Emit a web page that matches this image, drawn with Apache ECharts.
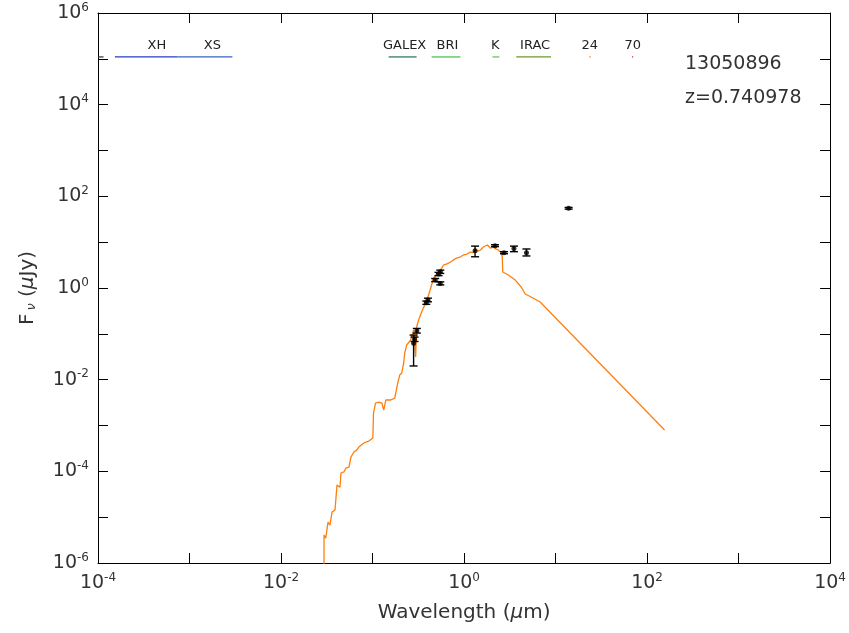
<!DOCTYPE html>
<html>
<head>
<meta charset="utf-8">
<script src="https://cdn.jsdelivr.net/npm/echarts@6/dist/echarts.min.js"></script>
</head>
<body style="margin:0;background-color:#ffffff">
<div id="main" style="width:849px;height:633px;"></div>
<script type="text/javascript">
// model SED (rest-frame wavelength in micron, flux in microJy)
var sedWave = [0.02951, 0.02951, 0.03081, 0.03263, 0.03430, 0.03606, 0.03890, 0.04089, 0.04407, 0.04519,
  0.04871, 0.05122, 0.05523, 0.05807, 0.06259, 0.06700, 0.07094, 0.07600, 0.08040, 0.08600, 0.09114, 0.1008,
  0.1025, 0.1078, 0.1171, 0.1263, 0.1327, 0.1395, 0.1581, 0.1748, 0.1885, 0.1982, 0.2084, 0.2191,
  0.2247, 0.2361, 0.2611, 0.2814, 0.2959, 0.3034, 0.3190, 0.3439, 0.3802, 0.4100, 0.4418, 0.4645,
  0.5265, 0.5600, 0.5968, 0.6500, 0.7112, 0.7600, 0.8264, 0.9000, 0.985, 1.080, 1.174, 1.250, 1.330, 1.420,
  1.508, 1.626, 1.700, 1.797, 1.938, 2.089, 2.200, 2.367,
  2.552, 2.617, 2.650, 3.042, 3.625, 4.213, 4.658, 5.413, 6.78, 155.4];
var sedFlux = [1e-7, 4.07e-6, 3.5e-6, 7.8e-6, 6.7e-6, 1.29e-5, 1.43e-5, 5.0e-5, 4.5e-5, 9.2e-5,
  9.7e-5, 1.18e-4, 1.24e-4, 2.05e-4, 2.64e-4, 2.9e-4, 3.39e-4, 3.8e-4, 4.15e-4, 4.4e-4, 4.58e-4, 5.33e-4,
  1.87e-3, 3.09e-3, 3.25e-3, 3.09e-3, 2.17e-3, 3.60e-3, 3.60e-3, 3.97e-3, 8.45e-3, 1.26e-2, 1.40e-2, 2.31e-2,
  3.81e-2, 5.70e-2, 7.33e-2, 0.121, 0.0312, 0.141, 0.200, 0.299, 0.470, 0.703, 1.16, 1.65,
  2.23, 2.55, 3.17, 3.35, 3.69, 4.05, 4.51, 4.70, 5.25, 5.50, 6.10, 5.90, 6.74, 6.40,
  6.74, 7.84, 7.30, 8.66, 7.45, 7.84, 7.20, 6.74,
  5.80, 4.74, 2.23, 1.92, 1.49, 1.05, 0.740, 0.636, 0.494, 7.96e-4];

// photometry
var obsWave = [13.9, 1.32, 2.18, 2.73, 3.51, 4.81, 0.55, 0.526, 0.484, 0.55, 0.403, 0.387, 0.305, 0.288, 0.281];
var obsFlux = [54.8, 6.5, 8.4, 5.9, 7.3, 5.9, 2.26, 2.02, 1.49, 1.26, 0.547, 0.478, 0.117, 0.076, 0.062];
var obsLow  = [52.5, 4.8, 8.0, 5.6, 6.2, 5.0, 2.08, 1.86, 1.38, 1.17, 0.50, 0.44, 0.104, 0.068, 0.0199];
var obsHigh = [57.2, 8.2, 8.8, 6.2, 8.2, 7.1, 2.45, 2.19, 1.61, 1.36, 0.60, 0.52, 0.131, 0.085, 0.094];

// filter bands along the top
var bandNames = ['', 'XH', 'XS', 'GALEX', 'BRI', 'K', 'IRAC', '24', '70'];
var bandFrom  = [1.0e-4, 1.53e-4, 7.4e-4, 0.150, 0.442, 2.04, 3.72, 23.3, 68.5];
var bandTo    = [1.15e-4, 7.4e-4, 2.94e-3, 0.303, 0.914, 2.43, 8.93, 24.2, 70.5];
var bandLabelAt = [1.0e-4, 4.4e-4, 1.78e-3, 0.224, 0.659, 2.2, 5.98, 23.7, 69.7];
var bandLineLevel = 1.1e5;
var bandTextLevel = 1.95e5;
var bandColors = ['#333333', '#2638c8', '#3a62c0', '#1f6e5a', '#3cc24a', '#4ccc3a', '#6a9a2a', '#ff8a20', '#e02020'];

var myChart = echarts.init(document.getElementById('main'));

function powLabel(v) {
  var e = Math.round(Math.log(v) / Math.LN10);
  if (e % 2 !== 0) return '';
  return '{b|10}{s|' + e + '}';
}

var labelRich = {
  b: {fontSize: 19, fontFamily: 'DejaVu Sans', color: '#333'},
  s: {fontSize: 12, fontFamily: 'DejaVu Sans', color: '#333', padding: [0, 0, 11, 0]}
};

var sedData = sedWave.map(function (w, i) { return [w, sedFlux[i]]; });
var obsData = obsWave.map(function (w, i) { return [w, obsFlux[i]]; });
var errData = obsWave.map(function (w, i) { return [w, obsLow[i], obsHigh[i]]; });
var bandData = bandNames.map(function (n, i) { return [bandFrom[i], bandTo[i], bandLabelAt[i], i]; });

option = {
  animation: false,
  backgroundColor: '#ffffff',
  grid: {left: 98, right: 16, top: 13, bottom: 70, show: false},
  xAxis: [
    {
      type: 'log', logBase: 10, min: 1e-4, max: 1e4, interval: 1,
      position: 'bottom',
      name: 'Wavelength ({m|μ}m)', nameLocation: 'middle', nameGap: 40,
      nameTextStyle: {fontSize: 20, fontFamily: 'DejaVu Sans', color: '#333',
        rich: {m: {fontSize: 20, fontFamily: 'DejaVu Sans', fontStyle: 'italic', color: '#333'}}},
      axisLine: {show: true, lineStyle: {color: '#000', width: 1}},
      axisTick: {show: true, inside: true, length: 10, lineStyle: {color: '#000'}},
      axisLabel: {margin: 9, formatter: powLabel, rich: labelRich},
      splitLine: {show: false}
    },
    {
      type: 'log', logBase: 10, min: 1e-4, max: 1e4, interval: 1,
      position: 'top',
      axisLine: {show: true, lineStyle: {color: '#000', width: 1}},
      axisTick: {show: true, inside: true, length: 10, lineStyle: {color: '#000'}},
      axisLabel: {show: false},
      splitLine: {show: false}
    }
  ],
  yAxis: [
    {
      type: 'log', logBase: 10, min: 1e-6, max: 1e6, interval: 1,
      position: 'left',
      name: 'F{v|ν} ({m|μ}Jy)', nameLocation: 'middle', nameGap: 60, nameRotate: 90,
      nameTextStyle: {fontSize: 20, fontFamily: 'DejaVu Sans', color: '#333',
        rich: {
          v: {fontSize: 13, fontFamily: 'DejaVu Sans', fontStyle: 'italic', color: '#333', padding: [7, 0, 0, 3]},
          m: {fontSize: 20, fontFamily: 'DejaVu Sans', fontStyle: 'italic', color: '#333'}
        }},
      axisLine: {show: true, lineStyle: {color: '#000', width: 1}},
      axisTick: {show: true, inside: true, length: 10, lineStyle: {color: '#000'}},
      axisLabel: {margin: 9, formatter: powLabel, rich: labelRich},
      splitLine: {show: false}
    },
    {
      type: 'log', logBase: 10, min: 1e-6, max: 1e6, interval: 1,
      position: 'right',
      axisLine: {show: true, lineStyle: {color: '#000', width: 1}},
      axisTick: {show: true, inside: true, length: 10, lineStyle: {color: '#000'}},
      axisLabel: {show: false},
      splitLine: {show: false}
    }
  ],
  graphic: [
    {type: 'text', left: 685, top: 55, style: {text: '13050896', font: '19px "DejaVu Sans"', fill: '#333'}},
    {type: 'text', left: 685, top: 89, style: {text: 'z=0.740978', font: '19px "DejaVu Sans"', fill: '#333'}}
  ],
  series: [
    {
      type: 'line', data: sedData, showSymbol: false, clip: true,
      lineStyle: {color: '#ff7f0e', width: 1.3}, z: 2
    },
    {
      type: 'custom', data: errData, clip: true, z: 3,
      encode: {x: 0, y: [1, 2]},
      renderItem: function (params, api) {
        var lo = api.coord([api.value(0), api.value(1)]);
        var hi = api.coord([api.value(0), api.value(2)]);
        var w = 4;
        var st = {stroke: '#000', lineWidth: 1.4};
        return {type: 'group', children: [
          {type: 'line', shape: {x1: lo[0], y1: lo[1], x2: hi[0], y2: hi[1]}, style: st},
          {type: 'line', shape: {x1: lo[0] - w, y1: lo[1], x2: lo[0] + w, y2: lo[1]}, style: st},
          {type: 'line', shape: {x1: hi[0] - w, y1: hi[1], x2: hi[0] + w, y2: hi[1]}, style: st}
        ]};
      }
    },
    {
      type: 'scatter', data: obsData, symbol: 'circle', symbolSize: 5,
      itemStyle: {color: '#000'}, z: 4
    },
    {
      type: 'custom', data: bandData, z: 5,
      renderItem: function (params, api) {
        var i = api.value(3);
        var a = api.coord([api.value(0), bandLineLevel]);
        var b = api.coord([api.value(1), bandLineLevel]);
        var t = api.coord([api.value(2), bandTextLevel]);
        return {type: 'group', children: [
          {type: 'line', shape: {x1: a[0], y1: a[1], x2: b[0], y2: b[1]}, style: {stroke: bandColors[i], lineWidth: 1.2}},
          {type: 'text', x: t[0], y: t[1], style: {text: bandNames[i], font: '13px "DejaVu Sans"', fill: '#222', align: 'center', verticalAlign: 'middle'}}
        ]};
      }
    }
  ]
};

myChart.setOption(option);
</script>
</body>
</html>
